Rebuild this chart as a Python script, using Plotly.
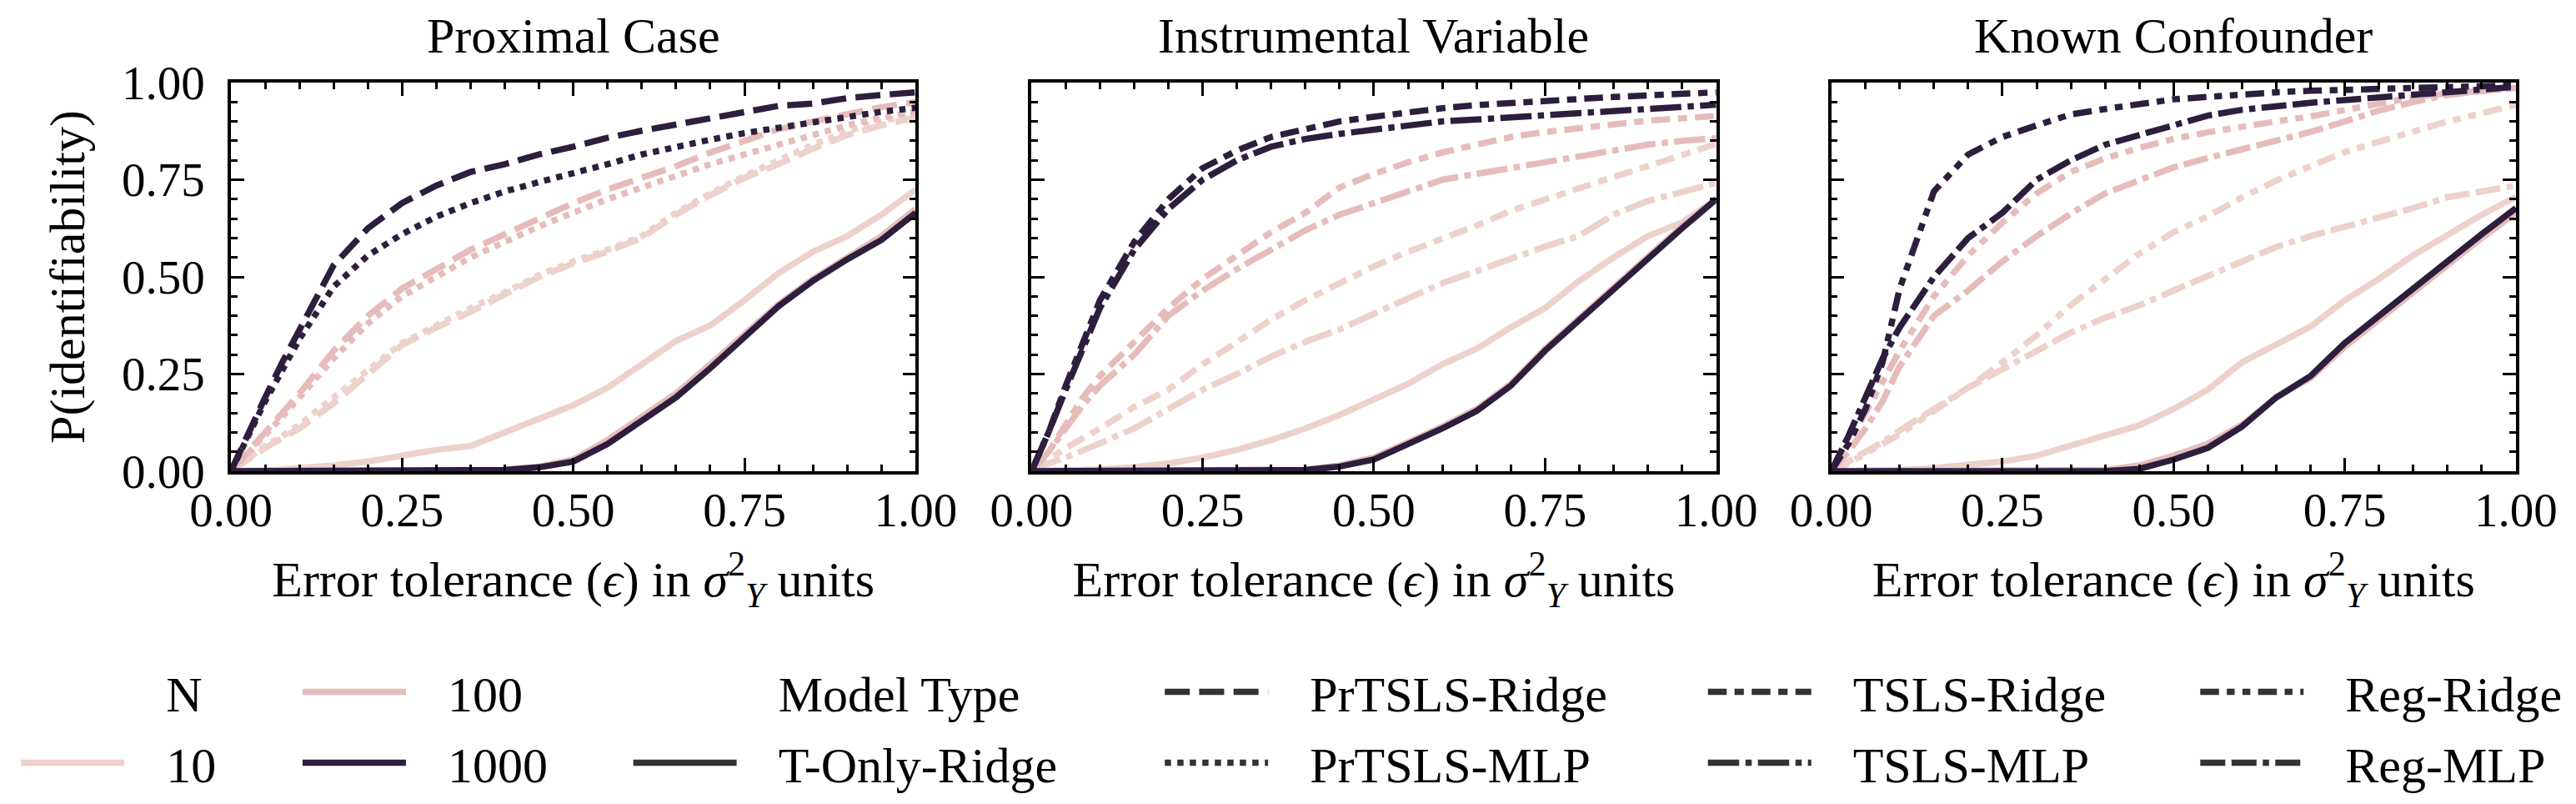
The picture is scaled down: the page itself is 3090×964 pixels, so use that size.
import plotly.graph_objects as go

# error tolerance grid (fraction of sigma_Y^2)
EPS = [0, 0.025, 0.05, 0.075, 0.1, 0.15, 0.2, 0.25, 0.3, 0.35, 0.4, 0.45,
       0.5, 0.55, 0.6, 0.65, 0.7, 0.75, 0.8, 0.85, 0.9, 0.95, 1.0]

PANELS = ["Proximal Case", "Instrumental Variable", "Known Confounder"]
N_LEVELS = [10, 100, 1000]
N_COLORS = ["#edd1cb", "#e6bcbb", "#2d1e3e"]
MODELS = ["T-Only-Ridge", "PrTSLS-Ridge", "PrTSLS-MLP", "TSLS-Ridge",
          "TSLS-MLP", "Reg-Ridge", "Reg-MLP"]

# Proximal case
PX_TONLY_10 = [0, 0, 0.002, 0.005, 0.008, 0.015, 0.025, 0.04, 0.055, 0.065, 0.10, 0.135,
               0.17, 0.215, 0.275, 0.335, 0.375, 0.44, 0.51, 0.565, 0.605, 0.66, 0.725]
PX_TONLY_100 = [0, 0, 0, 0, 0, 0, 0, 0, 0, 0.001, 0.004, 0.012,
                0.03, 0.08, 0.14, 0.2, 0.275, 0.355, 0.43, 0.495, 0.55, 0.605, 0.675]
PX_TONLY_1000 = [0, 0, 0, 0, 0, 0, 0, 0, 0, 0, 0.003, 0.01,
                 0.025, 0.07, 0.13, 0.19, 0.265, 0.345, 0.425, 0.49, 0.545, 0.595, 0.665]
PX_RIDGE_10 = [0, 0.03, 0.06, 0.085, 0.11, 0.175, 0.25, 0.325, 0.37, 0.41, 0.455, 0.50,
               0.535, 0.565, 0.60, 0.66, 0.71, 0.755, 0.79, 0.83, 0.865, 0.89, 0.91]
PX_RIDGE_100 = [0, 0.05, 0.10, 0.15, 0.20, 0.31, 0.40, 0.47, 0.52, 0.57, 0.61, 0.65,
                0.69, 0.725, 0.755, 0.785, 0.82, 0.85, 0.88, 0.90, 0.92, 0.937, 0.95]
PX_RIDGE_1000 = [0, 0.10, 0.19, 0.28, 0.365, 0.53, 0.625, 0.69, 0.735, 0.77, 0.79, 0.815,
                 0.835, 0.858, 0.876, 0.893, 0.91, 0.925, 0.94, 0.946, 0.96, 0.968, 0.975]
PX_MLP_10 = [0, 0.035, 0.065, 0.09, 0.12, 0.19, 0.26, 0.33, 0.375, 0.42, 0.46, 0.505,
             0.54, 0.57, 0.605, 0.665, 0.715, 0.76, 0.80, 0.84, 0.875, 0.90, 0.92]
PX_MLP_100 = [0, 0.045, 0.09, 0.14, 0.19, 0.29, 0.38, 0.45, 0.50, 0.55, 0.59, 0.63,
              0.665, 0.70, 0.73, 0.76, 0.79, 0.815, 0.84, 0.865, 0.89, 0.91, 0.925]
PX_MLP_1000 = [0, 0.09, 0.18, 0.26, 0.34, 0.475, 0.555, 0.61, 0.655, 0.69, 0.72, 0.744,
               0.765, 0.79, 0.815, 0.836, 0.853, 0.87, 0.884, 0.90, 0.915, 0.925, 0.935]

# Instrumental variable
IV_TONLY_10 = [0, 0, 0.001, 0.003, 0.005, 0.01, 0.02, 0.035, 0.055, 0.08, 0.11, 0.145,
               0.185, 0.225, 0.275, 0.315, 0.37, 0.42, 0.49, 0.55, 0.605, 0.64, 0.70]
IV_TONLY_100 = [0, 0, 0, 0, 0, 0, 0, 0, 0, 0.001, 0.004, 0.015,
                0.035, 0.075, 0.115, 0.16, 0.225, 0.315, 0.395, 0.47, 0.55, 0.63, 0.70]
IV_TONLY_1000 = [0, 0, 0, 0, 0, 0, 0, 0, 0, 0, 0.003, 0.012,
                 0.03, 0.07, 0.11, 0.155, 0.22, 0.31, 0.39, 0.465, 0.545, 0.625, 0.70]
IV_RIDGE_10 = [0, 0.03, 0.06, 0.085, 0.11, 0.165, 0.21, 0.275, 0.333, 0.39, 0.44, 0.485,
               0.527, 0.565, 0.597, 0.632, 0.67, 0.70, 0.73, 0.757, 0.785, 0.815, 0.842]
IV_RIDGE_100 = [0, 0.05, 0.12, 0.19, 0.245, 0.33, 0.42, 0.495, 0.555, 0.615, 0.665, 0.73,
                0.765, 0.795, 0.82, 0.84, 0.86, 0.873, 0.884, 0.894, 0.902, 0.908, 0.914]
IV_RIDGE_1000 = [0, 0.10, 0.22, 0.33, 0.44, 0.59, 0.70, 0.78, 0.825, 0.86, 0.88, 0.90,
                 0.912, 0.925, 0.934, 0.942, 0.948, 0.955, 0.96, 0.963, 0.967, 0.971, 0.975]
IV_MLP_10 = [0, 0.02, 0.035, 0.052, 0.072, 0.11, 0.16, 0.21, 0.25, 0.295, 0.333, 0.365,
             0.405, 0.446, 0.484, 0.515, 0.548, 0.578, 0.606, 0.66, 0.695, 0.72, 0.742]
IV_MLP_100 = [0, 0.05, 0.11, 0.17, 0.22, 0.30, 0.40, 0.465, 0.52, 0.57, 0.62, 0.66,
              0.69, 0.72, 0.75, 0.765, 0.78, 0.797, 0.814, 0.828, 0.84, 0.85, 0.857]
IV_MLP_1000 = [0, 0.10, 0.21, 0.32, 0.42, 0.57, 0.675, 0.75, 0.80, 0.835, 0.855, 0.868,
               0.878, 0.892, 0.90, 0.905, 0.91, 0.916, 0.92, 0.926, 0.93, 0.936, 0.943]

# Known confounder
KC_TONLY_10 = [0, 0, 0, 0.001, 0.003, 0.008, 0.015, 0.025, 0.04, 0.065, 0.092, 0.118,
               0.16, 0.21, 0.28, 0.327, 0.372, 0.44, 0.495, 0.556, 0.61, 0.66, 0.706]
KC_TONLY_100 = [0, 0, 0, 0, 0, 0, 0, 0, 0, 0.001, 0.003, 0.015,
                0.04, 0.07, 0.12, 0.19, 0.24, 0.32, 0.39, 0.465, 0.53, 0.60, 0.665]
KC_TONLY_1000 = [0, 0, 0, 0, 0, 0, 0, 0, 0, 0, 0, 0.006,
                 0.03, 0.06, 0.115, 0.19, 0.245, 0.33, 0.40, 0.475, 0.54, 0.61, 0.677]
KC_RIDGE_10 = [0, 0.02, 0.045, 0.07, 0.095, 0.155, 0.215, 0.28, 0.35, 0.428, 0.495, 0.56,
               0.615, 0.656, 0.705, 0.748, 0.785, 0.821, 0.848, 0.875, 0.90, 0.921, 0.943]
KC_RIDGE_100 = [0, 0.07, 0.15, 0.23, 0.31, 0.45, 0.555, 0.64, 0.715, 0.77, 0.805, 0.832,
                0.855, 0.872, 0.888, 0.90, 0.913, 0.928, 0.945, 0.962, 0.972, 0.98, 0.986]
KC_RIDGE_1000 = [0, 0.07, 0.16, 0.28, 0.47, 0.72, 0.815, 0.86, 0.89, 0.918, 0.932, 0.945,
                 0.957, 0.963, 0.97, 0.975, 0.979, 0.982, 0.985, 0.988, 0.99, 0.992, 0.993]
KC_MLP_10 = [0, 0.025, 0.048, 0.075, 0.105, 0.16, 0.215, 0.262, 0.31, 0.357, 0.395, 0.427,
             0.465, 0.503, 0.54, 0.577, 0.605, 0.628, 0.651, 0.677, 0.705, 0.722, 0.735]
KC_MLP_100 = [0, 0.05, 0.11, 0.18, 0.27, 0.40, 0.465, 0.54, 0.605, 0.663, 0.715, 0.75,
              0.782, 0.806, 0.828, 0.85, 0.873, 0.90, 0.928, 0.95, 0.968, 0.978, 0.986]
KC_MLP_1000 = [0, 0.09, 0.19, 0.29, 0.37, 0.50, 0.60, 0.665, 0.75, 0.80, 0.84, 0.865,
               0.89, 0.915, 0.93, 0.94, 0.948, 0.955, 0.962, 0.97, 0.978, 0.985, 0.989]

# (panel, model, N, values)
CURVES = [
    (0, "T-Only-Ridge", 10, PX_TONLY_10), (0, "PrTSLS-Ridge", 10, PX_RIDGE_10),
    (0, "PrTSLS-MLP", 10, PX_MLP_10),
    (0, "T-Only-Ridge", 100, PX_TONLY_100), (0, "PrTSLS-Ridge", 100, PX_RIDGE_100),
    (0, "PrTSLS-MLP", 100, PX_MLP_100),
    (0, "T-Only-Ridge", 1000, PX_TONLY_1000), (0, "PrTSLS-Ridge", 1000, PX_RIDGE_1000),
    (0, "PrTSLS-MLP", 1000, PX_MLP_1000),
    (1, "T-Only-Ridge", 10, IV_TONLY_10), (1, "TSLS-Ridge", 10, IV_RIDGE_10),
    (1, "TSLS-MLP", 10, IV_MLP_10),
    (1, "T-Only-Ridge", 100, IV_TONLY_100), (1, "TSLS-Ridge", 100, IV_RIDGE_100),
    (1, "TSLS-MLP", 100, IV_MLP_100),
    (1, "T-Only-Ridge", 1000, IV_TONLY_1000), (1, "TSLS-Ridge", 1000, IV_RIDGE_1000),
    (1, "TSLS-MLP", 1000, IV_MLP_1000),
    (2, "T-Only-Ridge", 10, KC_TONLY_10), (2, "Reg-Ridge", 10, KC_RIDGE_10),
    (2, "Reg-MLP", 10, KC_MLP_10),
    (2, "T-Only-Ridge", 100, KC_TONLY_100), (2, "Reg-Ridge", 100, KC_RIDGE_100),
    (2, "Reg-MLP", 100, KC_MLP_100),
    (2, "T-Only-Ridge", 1000, KC_TONLY_1000), (2, "Reg-Ridge", 1000, KC_RIDGE_1000),
    (2, "Reg-MLP", 1000, KC_MLP_1000),
]

LW = 7.5
DASHES = {
    "T-Only-Ridge": None,
    "PrTSLS-Ridge": (4, 1.5),
    "PrTSLS-MLP": (1, 1),
    "TSLS-Ridge": (3, 1.25, 1.5, 1.25),
    "TSLS-MLP": (5, 1, 1, 1),
    "Reg-Ridge": (3, 1.25, 1.25, 1.25, 1.25, 1.25),
    "Reg-MLP": (4, 1, 4, 1, 1, 1),
}


def dash_of(model):
    seq = DASHES[model]
    if seq is None:
        return "solid"
    return ",".join(f"{s * LW:g}px" for s in seq)


FONT = "Liberation Serif"
FS_TICK = 57
FS = 60
W, H = 3090, 964
ML, MR, MT, MB = 267, 80, 91, 392
PW = W - ML - MR
PH = H - MT - MB
PANEL_PX = [(267, 1089), (1228, 2050), (2188, 3010)]
ITEM_W = 124
GAP = "\u00a0\u00a0\u00a0"

fig = go.Figure()

for p, model, n, vals in CURVES:
    sfx = "" if p == 0 else str(p + 1)
    fig.add_trace(go.Scatter(
        x=EPS, y=vals, mode="lines", xaxis="x" + sfx, yaxis="y" + sfx,
        line=dict(color=N_COLORS[N_LEVELS.index(n)], width=LW, dash=dash_of(model)),
        showlegend=False, hoverinfo="skip"
    ))

# legend-only traces, laid out in six two-row columns like the seaborn legend
legend_cols = [["N", 10], [100, 1000], ["Model Type", "T-Only-Ridge"],
               ["PrTSLS-Ridge", "PrTSLS-MLP"], ["TSLS-Ridge", "TSLS-MLP"],
               ["Reg-Ridge", "Reg-MLP"]]
handle_px = [30, 368, 765, 1403, 2055, 2646]

for ci, col in enumerate(legend_cols):
    lname = "legend" if ci == 0 else f"legend{ci + 1}"
    for ri, entry in enumerate(col):
        if entry in N_LEVELS:
            line = dict(color=N_COLORS[N_LEVELS.index(entry)], width=LW)
        elif entry in DASHES:
            line = dict(color="#333333", width=LW, dash=dash_of(entry))
        else:
            line = dict(color="rgba(0,0,0,0)", width=0)
        fig.add_trace(go.Scatter(
            x=[None], y=[None], mode="lines", name=GAP + str(entry), line=line,
            legend=lname, legendgroup=f"{ci}-{ri}", showlegend=True
        ))
    fig.update_layout({lname: dict(
        x=(handle_px[ci] - 20 - ML) / PW, xanchor="left",
        y=(H - MB - 798) / PH, yanchor="top",
        orientation="v", bgcolor="rgba(0,0,0,0)", tracegroupgap=4,
        itemwidth=ITEM_W,
        font=dict(family=FONT, size=FS, color="black"),
    )})

axis_common = dict(
    range=[0, 1], showline=True, linecolor="black", linewidth=3.5, mirror="ticks",
    ticks="inside", ticklen=16, tickwidth=3, tickcolor="black",
    dtick=0.25, tick0=0, tickformat=".2f", showgrid=False, zeroline=False,
    minor=dict(ticks="inside", ticklen=8, tickwidth=2.5, tickcolor="black", dtick=0.05),
    tickfont=dict(family=FONT, size=FS_TICK, color="black"),
)

annotations = []
for p, (x0, x1) in enumerate(PANEL_PX):
    sfx = "" if p == 0 else str(p + 1)
    dom = [(x0 - ML) / PW, (x1 - ML) / PW]
    fig.update_layout({
        "xaxis" + sfx: dict(
            axis_common, domain=dom, anchor="y" + sfx, ticklabelstandoff=-6,
            title=dict(text="Error tolerance (<i>ϵ</i>) in <i>σ</i><sup>2</sup><sub><i>Y</i></sub> units",
                       font=dict(family=FONT, size=FS, color="black"), standoff=32),
        ),
        "yaxis" + sfx: dict(
            axis_common, domain=[0, 1], anchor="x" + sfx, ticklabelstandoff=16,
            showticklabels=(p == 0),
            title=dict(text="P(identifiability)" if p == 0 else "",
                       font=dict(family=FONT, size=FS, color="black"), standoff=26),
        ),
    })
    annotations.append(dict(
        text=PANELS[p], x=(dom[0] + dom[1]) / 2, xref="paper", y=1 + 58 / PH, yref="paper",
        xanchor="center", yanchor="middle", showarrow=False,
        font=dict(family=FONT, size=FS, color="black"),
    ))

fig.update_layout(
    width=W, height=H, autosize=False,
    margin=dict(l=ML, r=MR, t=MT, b=MB),
    paper_bgcolor="white", plot_bgcolor="white",
    font=dict(family=FONT, size=FS, color="black"),
    annotations=annotations,
)

fig.write_html("out.html")
